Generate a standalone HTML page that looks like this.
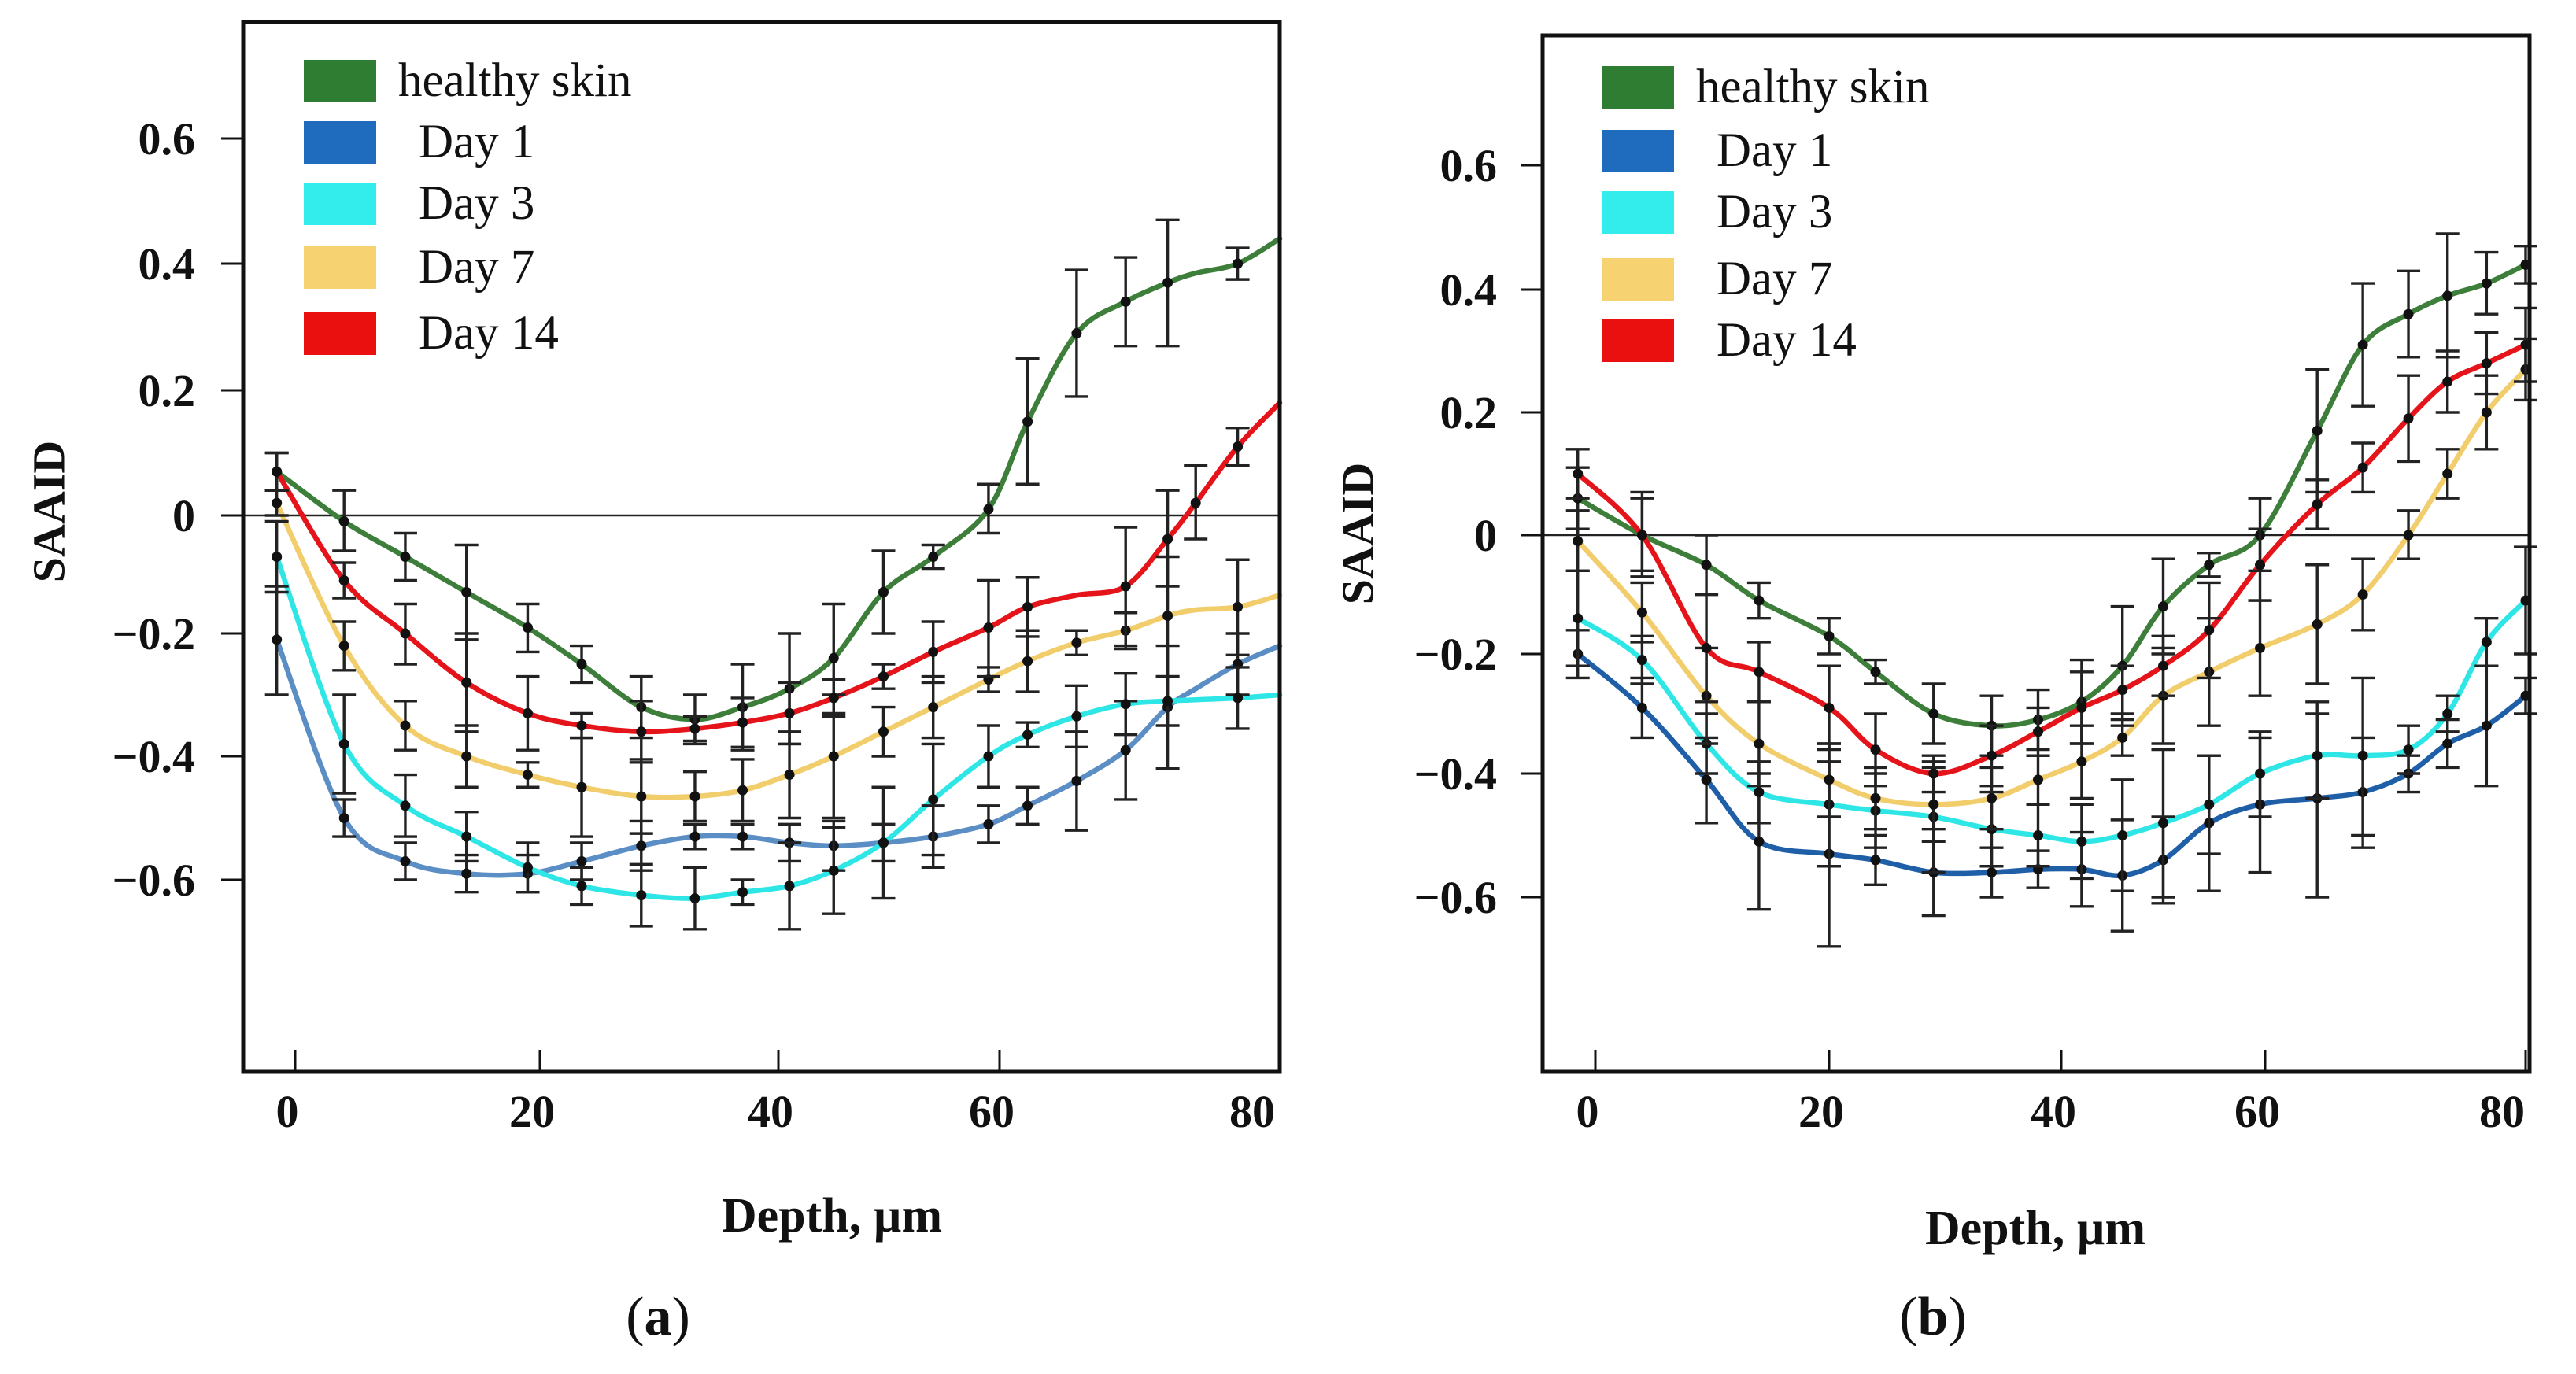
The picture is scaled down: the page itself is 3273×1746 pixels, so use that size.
<!DOCTYPE html>
<html><head><meta charset="utf-8"><style>
html,body{margin:0;padding:0;background:#fff;}
svg{display:block;}
text{font-family:"Liberation Serif",serif;}
</style></head><body>
<svg id="fig" width="3273" height="1746" viewBox="0 0 3273 1746" xmlns="http://www.w3.org/2000/svg"></svg>
<script>
// Panel (a) data
const depthA = [-1.5,4,9,14,19,23.5,28.5,33,37,41,45,49.5,54,59,62,65.5,69,72,74,77,80];
const healthyA = [0.07,-0.01,-0.07,-0.13,-0.19,-0.25,-0.32,-0.34,-0.32,-0.29,-0.24,-0.13,-0.07,0.01,0.15,0.29,0.34,0.37,0.385,0.40,0.44];
const healthyErrA = [.03,.05,.04,.08,.04,.03,.05,.04,.07,.09,.09,.07,.02,.04,.1,.1,.07,.1,0,.025,0];
const day1A = [-0.21,-0.50,-0.57,-0.59,-0.59,-0.57,-0.545,-0.53,-0.53,-0.54,-0.545,-0.54,-0.53,-0.51,-0.48,-0.44,-0.39,-0.32,-0.29,-0.25,-0.22];
const day1ErrA = [.09,.03,.03,.03,.03,.03,.04,.02,.02,.03,.04,.03,.05,.03,.03,.08,.08,.1,0,.05,0];
const day3A = [-0.07,-0.38,-0.48,-0.53,-0.58,-0.61,-0.625,-0.63,-0.62,-0.61,-0.585,-0.54,-0.47,-0.40,-0.365,-0.335,-0.315,-0.31,-0.308,-0.305,-0.30];
const day3ErrA = [.06,.08,.05,.04,.04,.03,.05,.05,.02,.07,.07,.09,.09,.05,.02,.05,.05,.04,0,.05,0];
const day7A = [0.02,-0.22,-0.35,-0.40,-0.43,-0.45,-0.465,-0.465,-0.455,-0.43,-0.40,-0.36,-0.32,-0.275,-0.245,-0.215,-0.195,-0.17,-0.16,-0.155,-0.135];
const day7ErrA = [.02,.04,.04,.05,.02,.08,.06,.04,.05,.07,.1,.04,.05,.02,.05,.02,.03,.1,0,.08,0];
const day14A = [0.07,-0.11,-0.20,-0.28,-0.33,-0.35,-0.36,-0.355,-0.345,-0.33,-0.305,-0.27,-0.23,-0.19,-0.155,-0.135,-0.12,-0.04,0.02,0.11,0.18];
const day14ErrA = [.03,.03,.05,.08,.06,.02,.05,.02,.04,.05,.03,.02,.05,.08,.05,0,.1,.08,.06,.03,0];
// Panel (b) data
const depthB = [-1.5,4,9.5,14,20,24,29,34,38,42,46,50,54.5,59.5,64,67.5,71,74,77,80];
const healthyB = [0.06,0.0,-0.05,-0.11,-0.17,-0.23,-0.30,-0.32,-0.31,-0.28,-0.22,-0.12,-0.05,0.0,0.17,0.31,0.36,0.39,0.41,0.44];
const healthyErrB = [.05,.06,.05,.03,.03,.02,.05,.05,.05,.07,.1,.08,.02,.06,.1,.1,.07,.1,.05,.03];
const day1B = [-0.20,-0.29,-0.41,-0.51,-0.53,-0.54,-0.56,-0.56,-0.555,-0.555,-0.565,-0.54,-0.48,-0.45,-0.44,-0.43,-0.40,-0.35,-0.32,-0.27];
const day1ErrB = [.04,.05,.07,.11,.15,.04,.07,.04,.03,.06,.09,.07,.11,.11,.16,.09,.03,.04,.1,.03];
const day3B = [-0.14,-0.21,-0.35,-0.43,-0.45,-0.46,-0.47,-0.49,-0.50,-0.51,-0.50,-0.48,-0.45,-0.40,-0.37,-0.37,-0.36,-0.30,-0.18,-0.11];
const day3ErrB = [.08,.04,.05,.05,.1,.06,.09,.06,.05,.06,.09,.12,.08,.07,.07,.13,.04,.03,.04,.09];
const day7B = [-0.01,-0.13,-0.27,-0.35,-0.41,-0.44,-0.45,-0.44,-0.41,-0.38,-0.34,-0.27,-0.23,-0.19,-0.15,-0.10,0.0,0.10,0.20,0.27];
const day7ErrB = [.05,.05,.08,.07,.06,.05,.06,.05,.04,.06,.03,.08,.09,.08,.1,.06,.04,.04,.06,.05];
const day14B = [0.10,0.0,-0.19,-0.23,-0.29,-0.36,-0.40,-0.37,-0.33,-0.29,-0.26,-0.22,-0.16,-0.05,0.05,0.11,0.19,0.25,0.28,0.31];
const day14ErrB = [.04,.07,.09,.05,.07,.06,.03,.05,.04,.06,.04,.05,.08,.06,.04,.04,.07,.05,.05,.06];
const xTicks = [0,20,40,60,80];
const yTicks = [-0.6,-0.4,-0.2,0,0.2,0.4,0.6];
const yTickLabels = ["\u22120.6","\u22120.4","\u22120.2","0","0.2","0.4","0.6"];
const legendLabels = ["healthy skin","Day 1","Day 3","Day 7","Day 14"];

const NS="http://www.w3.org/2000/svg";
const svg=document.getElementById('fig');
function mk(tag,attrs,parent,txt){const e=document.createElementNS(NS,tag);for(const k in attrs)e.setAttribute(k,attrs[k]);if(txt!==undefined)e.textContent=txt;(parent||svg).appendChild(e);return e;}
function interp(v,ks,ps){let i=0;while(i<ks.length-2&&v>ks[i+1])i++;const t=(v-ks[i])/(ks[i+1]-ks[i]);return ps[i]+t*(ps[i+1]-ps[i]);}
function smooth(pts){let d="M"+pts[0][0]+","+pts[0][1];for(let i=0;i<pts.length-1;i++){const p0=pts[Math.max(0,i-1)],p1=pts[i],p2=pts[i+1],p3=pts[Math.min(pts.length-1,i+2)];const c1x=p1[0]+(p2[0]-p0[0])/6,c1y=p1[1]+(p2[1]-p0[1])/6,c2x=p2[0]-(p3[0]-p1[0])/6,c2y=p2[1]-(p3[1]-p1[1])/6;d+=" C"+c1x.toFixed(1)+","+c1y.toFixed(1)+" "+c2x.toFixed(1)+","+c2y.toFixed(1)+" "+p2[0].toFixed(1)+","+p2[1].toFixed(1);}return d;}

const panels=[
 {id:'a',L:309,R:1626,T:28,B:1362,xPx:[375,686,989,1270,1626],yPx:[1118,961,805,655,496,335,176],tickLx:248,depth:depthA,
  series:[[healthyA,healthyErrA,'#3d7f3a'],[day1A,day1ErrA,'#5b8ec4'],[day3A,day3ErrA,'#2fe6e6'],[day7A,day7ErrA,'#f2cd6c'],[day14A,day14ErrA,'#e5141b']],
  legX:386,legY:[103,181,259,340,424],legCols:['#2f7d32','#1f6cbf','#33eded','#f6d271','#ea1010'],
  saaid:[62,650],depthT:[1057,1545],label:[836,1672],zeroFrom:309},
 {id:'b',L:1960,R:3214,T:45,B:1362,xPx:[2027,2324,2619,2878,3209],yPx:[1140,983,831,680,524,368,210],tickLx:1902,depth:depthB,
  series:[[healthyB,healthyErrB,'#3d7f3a'],[day1B,day1ErrB,'#1f5fa8'],[day3B,day3ErrB,'#2fe6e6'],[day7B,day7ErrB,'#f2cd6c'],[day14B,day14ErrB,'#e5141b']],
  legX:2035,legY:[111,192,270,355,433],legCols:['#2f7d32','#1f6cbf','#33eded','#f6d271','#ea1010'],
  saaid:[1725,678],depthT:[2586,1561],label:[2456,1672],zeroFrom:1938}
];
const names=['healthy-skin','day-1','day-3','day-7','day-14'];
panels.forEach(p=>{
 const g=mk('g',{});
 
 
 const X=v=>interp(v,xTicks,p.xPx), Y=v=>interp(v,yTicks,p.yPx);
 const z=Y(0);
 const zl=mk('line',{x1:p.zeroFrom,x2:p.R,y1:z,y2:z,stroke:'#222','stroke-width':2.5},g);
 
 
 p.series.forEach((s,si)=>{
  const pts=p.depth.map((d,i)=>[X(d),Y(s[0][i])]);
  const pa=mk('path',{d:smooth(pts),fill:'none',stroke:s[2],'stroke-width':6.5,'stroke-linecap':'round'},g);
  
  
 });
 p.series.forEach((s,si)=>{
  p.depth.forEach((d,i)=>{
   const e=s[1][i]; if(!e) return;
   const x=X(d),y=Y(s[0][i]),y1=Y(s[0][i]+e),y2=Y(s[0][i]-e);
   const eb=mk('path',{d:`M${x},${y1}V${y2}M${x-15},${y1}H${x+15}M${x-15},${y2}H${x+15}`,stroke:'#222','stroke-width':3.4,fill:'none'},g);
   
   
   const c=mk('circle',{cx:x,cy:y,r:6.5,fill:'#111'},g);
   
   
  });
 });
 const fr=mk('rect',{x:p.L,y:p.T,width:p.R-p.L,height:p.B-p.T,fill:'none',stroke:'#111','stroke-width':5},g);
 
 
 yTicks.forEach((v,i)=>{
  const y=Y(v);
  const t=mk('line',{x1:p.L-28,x2:p.L,y1:y,y2:y,stroke:'#111','stroke-width':3},g);
  
  
  const tl=mk('text',{x:p.tickLx,y:y+20,'text-anchor':'end','font-size':58,'font-weight':'bold',fill:'#111'},g,yTickLabels[i]);
  
  
 });
 xTicks.forEach(v=>{
  const x=X(v);
  const t=mk('line',{x1:x,x2:x,y1:p.B,y2:p.B-28,stroke:'#111','stroke-width':3},g);
  
  
  const tl=mk('text',{x:Math.min(x,p.R-25)-10,y:1432,'text-anchor':'middle','font-size':58,'font-weight':'bold',fill:'#111'},g,String(v));
  
  
 });
 const yt=mk('text',{x:p.saaid[0],y:p.saaid[1],transform:`rotate(-90 ${p.saaid[0]} ${p.saaid[1]})`,'text-anchor':'middle','dominant-baseline':'central','font-size':58,'font-weight':'bold',fill:'#111'},g,'SAAID');
 
 
 const xt=mk('text',{x:p.depthT[0],y:p.depthT[1]+20,'text-anchor':'middle','font-size':62,'font-weight':'bold',fill:'#111'},g,'Depth, µm');
 
 
 const lb=mk('text',{x:p.label[0],y:p.label[1]+24,'text-anchor':'middle','font-size':70,fill:'#111'},g);
 
 
 mk('tspan',{},lb,'(');mk('tspan',{'font-weight':'bold'},lb,p.id);mk('tspan',{},lb,')');
 legendLabels.forEach((l,i)=>{
  const y=p.legY[i];
  const sw=mk('rect',{x:p.legX,y:y-27,width:92,height:54,fill:p.legCols[i]},g);
  
  
  const tx=mk('text',{x:p.legX+(i===0?120:146),y:y+19,'font-size':61,fill:'#111'},g,l);
  
  
 });
});
</script>
</body></html>
